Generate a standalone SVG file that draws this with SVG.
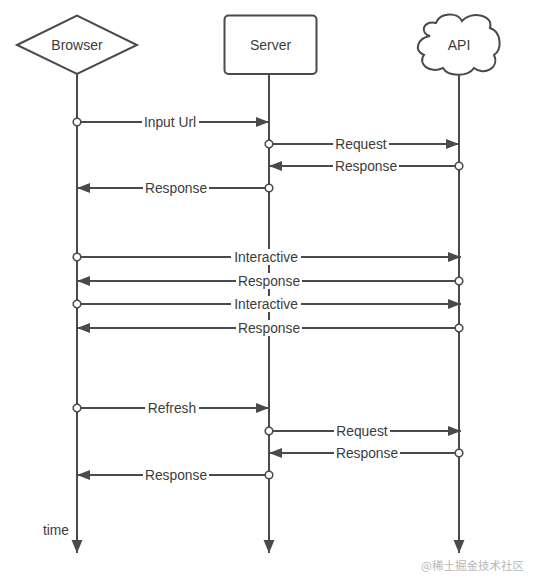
<svg xmlns="http://www.w3.org/2000/svg" width="538" height="587" viewBox="0 0 538 587">
  <style>
    .shape { fill: #ffffff; stroke: #4a4a4a; stroke-width: 2; }
    .life { stroke: #4a4a4a; stroke-width: 2; fill: none; }
    .msg { stroke: #4a4a4a; stroke-width: 1.8; fill: none; marker-end: url(#arrow); marker-start: url(#dot); }
    .lbg { fill: #ffffff; }
    .lbl { font-family: "Liberation Sans", "Noto Sans", Arial, sans-serif; font-size: 13.8px; fill: #3c3c3c; text-anchor: middle; }
    .title { font-family: "Liberation Sans", "Noto Sans", Arial, sans-serif; font-size: 14px; fill: #3c3c3c; text-anchor: middle; }
    .wm { font-family: "Noto Sans CJK SC", sans-serif; font-size: 11.5px; fill: #b8b8b8; }
  </style>
  <defs>
    <marker id="arrow" markerUnits="userSpaceOnUse" markerWidth="14" markerHeight="12" refX="13" refY="5" orient="auto">
      <path d="M0,0 L13,5 L0,10 Z" fill="#4a4a4a"/>
    </marker>
    <marker id="dot" markerUnits="userSpaceOnUse" markerWidth="12" markerHeight="12" refX="6" refY="6" orient="auto">
      <circle cx="6" cy="6" r="3.8" fill="#ffffff" stroke="#4a4a4a" stroke-width="1.6"/>
    </marker>
    <marker id="down" markerUnits="userSpaceOnUse" markerWidth="14" markerHeight="14" refX="13" refY="5.5" orient="auto">
      <path d="M0,0 L13,5.5 L0,11 Z" fill="#4a4a4a"/>
    </marker>
  </defs>
  <rect x="0" y="0" width="538" height="587" fill="#ffffff"/>

  <g id="connectors">
    <line class="life" x1="77" y1="74" x2="77" y2="553" marker-end="url(#down)"/>
    <line class="life" x1="269" y1="74" x2="269" y2="553" marker-end="url(#down)"/>
    <line class="life" x1="459" y1="72" x2="459" y2="553" marker-end="url(#down)"/>

    <g id="m1"><line class="msg" x1="77" y1="122" x2="269" y2="122"/><rect class="lbg" x="142" y="114" width="57" height="16"/><text class="lbl" x="170" y="127">Input Url</text></g>
    <g id="m2"><line class="msg" x1="269" y1="144" x2="459" y2="144"/><rect class="lbg" x="333" y="136" width="56" height="16"/><text class="lbl" x="361" y="149">Request</text></g>
    <g id="m3"><line class="msg" x1="459" y1="166" x2="269" y2="166"/><rect class="lbg" x="333" y="158" width="66" height="16"/><text class="lbl" x="366" y="171">Response</text></g>
    <g id="m4"><line class="msg" x1="269" y1="188" x2="77" y2="188"/><rect class="lbg" x="143" y="180" width="66" height="16"/><text class="lbl" x="176" y="193">Response</text></g>

    <g id="m5"><line class="msg" x1="77" y1="257" x2="461" y2="257"/><rect class="lbg" x="231" y="249" width="70" height="16"/><text class="lbl" x="266" y="262">Interactive</text></g>
    <g id="m6"><line class="msg" x1="459" y1="281" x2="77" y2="281"/><rect class="lbg" x="236" y="273" width="66" height="16"/><text class="lbl" x="269" y="286">Response</text></g>
    <g id="m7"><line class="msg" x1="77" y1="304" x2="461" y2="304"/><rect class="lbg" x="231" y="296" width="70" height="16"/><text class="lbl" x="266" y="309">Interactive</text></g>
    <g id="m8"><line class="msg" x1="459" y1="328" x2="77" y2="328"/><rect class="lbg" x="236" y="320" width="66" height="16"/><text class="lbl" x="269" y="333">Response</text></g>

    <g id="m9"><line class="msg" x1="77" y1="408" x2="269" y2="408"/><rect class="lbg" x="145" y="400" width="54" height="16"/><text class="lbl" x="172" y="413">Refresh</text></g>
    <g id="m10"><line class="msg" x1="269" y1="431" x2="461" y2="431"/><rect class="lbg" x="334" y="423" width="56" height="16"/><text class="lbl" x="362" y="436">Request</text></g>
    <g id="m11"><line class="msg" x1="459" y1="453" x2="269" y2="453"/><rect class="lbg" x="334" y="445" width="66" height="16"/><text class="lbl" x="367" y="458">Response</text></g>
    <g id="m12"><line class="msg" x1="269" y1="475" x2="77" y2="475"/><rect class="lbg" x="143" y="467" width="66" height="16"/><text class="lbl" x="176" y="480">Response</text></g>
  </g>

  <g id="browser">
    <polygon class="shape" points="17,45 77,15.5 137,45 77,74"/>
    <text class="title" x="77" y="50">Browser</text>
  </g>
  <g id="server">
    <rect class="shape" x="224.5" y="15.5" width="92" height="58.5" rx="4"/>
    <text class="title" x="270.5" y="50">Server</text>
  </g>
  <g id="api">
    <path class="shape" d="M430,36 C420,34 422,20 436,23 C440,12 458,12 462,21 C470,11 494,14 490,28 C502,32 502,50 494,55 C500,68 484,76 474,68 C468,77 448,77 443,68 C430,74 417,64 424,55 C413,50 418,38 430,36 Z"/>
    <text class="title" x="459" y="50">API</text>
  </g>

  <text class="lbl" x="56" y="535">time</text>
  <text class="wm" x="421" y="570">@稀土掘金技术社区</text>
</svg>
